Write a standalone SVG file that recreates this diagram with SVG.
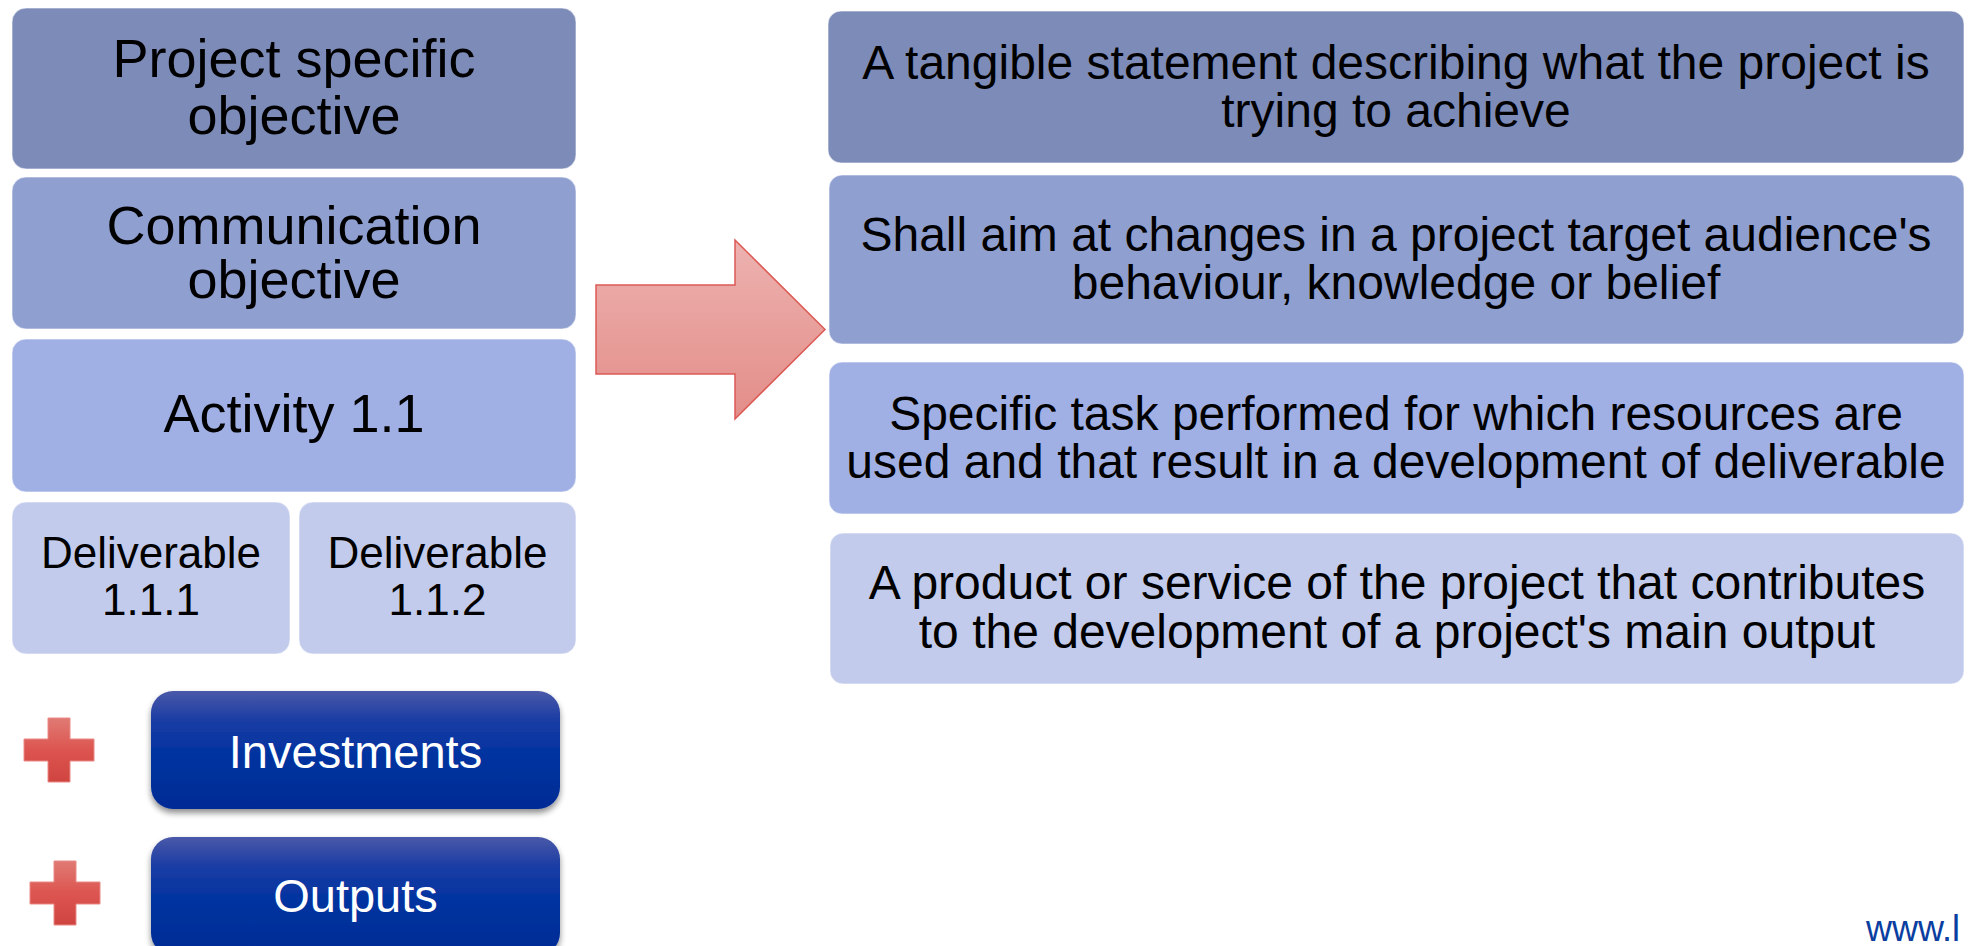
<svg xmlns="http://www.w3.org/2000/svg" width="1972" height="946" viewBox="0 0 1972 946">
<style>
.t{font-family:"Liberation Sans",Arial,sans-serif;fill:#000;text-anchor:middle}
.l1{fill:#7d8bb8;stroke:#ffffff;stroke-width:1;stroke-opacity:.6}
.l2{fill:#8f9fd0;stroke:#ffffff;stroke-width:1;stroke-opacity:.6}
.l3{fill:#a0b0e4;stroke:#ffffff;stroke-width:1;stroke-opacity:.6}
.l4{fill:#c2cbec;stroke:#ffffff;stroke-width:1;stroke-opacity:.6}
.btn{fill:url(#gBtn);filter:url(#sh)}
.bt{font-family:"Liberation Sans",Arial,sans-serif;fill:#fff;text-anchor:middle;font-size:47px}
.cross{fill:url(#gRed);stroke:#e88a86;stroke-width:1}
</style>
<defs>
<linearGradient id="gBtn" x1="0" y1="0" x2="0" y2="1">
<stop offset="0" stop-color="#4a59a8"/>
<stop offset="0.25" stop-color="#1a3ca4"/>
<stop offset="0.55" stop-color="#0033a0"/>
<stop offset="1" stop-color="#002b94"/>
</linearGradient>
<linearGradient id="gRed" x1="0" y1="0" x2="0" y2="1">
<stop offset="0" stop-color="#e07a74"/>
<stop offset="0.5" stop-color="#dd5550"/>
<stop offset="1" stop-color="#cf4440"/>
</linearGradient>
<linearGradient id="gArrow" x1="0" y1="0" x2="0" y2="1">
<stop offset="0" stop-color="#edb2b0"/>
<stop offset="1" stop-color="#e38d88"/>
</linearGradient>
<filter id="sh" x="-10%" y="-10%" width="120%" height="130%">
<feGaussianBlur in="SourceAlpha" stdDeviation="3"/>
<feOffset dx="0" dy="4" result="o"/>
<feComponentTransfer><feFuncA type="linear" slope="0.45"/></feComponentTransfer>
<feMerge><feMergeNode/><feMergeNode in="SourceGraphic"/></feMerge>
</filter>
</defs>
<rect width="1972" height="946" fill="#ffffff"/>

<g id="node-project-objective">
<rect class="l1" x="12" y="8" width="564" height="161" rx="14"/>
<text class="t" font-size="54" x="294" y="77">Project specific</text>
<text class="t" font-size="54" x="294" y="134">objective</text>
</g>
<g id="node-communication-objective">
<rect class="l2" x="12" y="177" width="564" height="152" rx="14"/>
<text class="t" font-size="54" x="294" y="244">Communication</text>
<text class="t" font-size="54" x="294" y="298">objective</text>
</g>
<g id="node-activity">
<rect class="l3" x="12" y="339" width="564" height="153" rx="14"/>
<text class="t" font-size="54" x="294" y="432">Activity 1.1</text>
</g>
<g id="node-deliverable-1">
<rect class="l4" x="12" y="502" width="278" height="152" rx="14"/>
<text class="t" font-size="44" x="151" y="568">Deliverable</text>
<text class="t" font-size="44" x="151" y="615">1.1.1</text>
</g>
<g id="node-deliverable-2">
<rect class="l4" x="299" y="502" width="277" height="152" rx="14"/>
<text class="t" font-size="44" x="437.5" y="568">Deliverable</text>
<text class="t" font-size="44" x="437.5" y="615">1.1.2</text>
</g>

<g id="node-plus-1">
<path class="cross" d="M48 718H70V739H94V761H70V782H48V761H24V739H48Z"/>
</g>
<g id="node-investments">
<rect class="btn" x="151" y="691" width="409" height="118" rx="22"/>
<text class="bt" x="355.5" y="768">Investments</text>
</g>
<g id="node-plus-2">
<path class="cross" d="M54 861H76V882H100V904H76V925H54V904H30V882H54Z"/>
</g>
<g id="node-outputs">
<rect class="btn" x="151" y="837" width="409" height="118" rx="22"/>
<text class="bt" x="355.5" y="912">Outputs</text>
</g>

<g id="connectors">
<path d="M596 285H735V240L825 329.5L735 419V374H596Z" fill="url(#gArrow)" stroke="#dc5a55" stroke-width="1.5" stroke-linejoin="miter"/>
</g>

<g id="node-desc-1">
<rect class="l1" x="828" y="11" width="1136" height="152" rx="13"/>
<text class="t" font-size="48" x="1396" y="79">A tangible statement describing what the project is</text>
<text class="t" font-size="48" x="1396" y="127">trying to achieve</text>
</g>
<g id="node-desc-2">
<rect class="l2" x="829" y="175" width="1135" height="169" rx="13"/>
<text class="t" font-size="48" x="1396" y="251">Shall aim at changes in a project target audience's</text>
<text class="t" font-size="48" x="1396" y="299">behaviour, knowledge or belief</text>
</g>
<g id="node-desc-3">
<rect class="l3" x="829" y="362" width="1135" height="152" rx="13"/>
<text class="t" font-size="48" x="1396" y="430">Specific task performed for which resources are</text>
<text class="t" font-size="48" x="1396" y="478">used and that result in a development of deliverable</text>
</g>
<g id="node-desc-4">
<rect class="l4" x="830" y="533" width="1134" height="151" rx="13"/>
<text class="t" font-size="48" x="1397" y="599">A product or service of the project that contributes</text>
<text class="t" font-size="48" x="1397" y="648">to the development of a project's main output</text>
</g>

<g id="footer">
<text x="1866" y="941" font-family="'Liberation Sans',Arial,sans-serif" font-size="36" fill="#0a3ea0">www.l</text>
</g>
</svg>
